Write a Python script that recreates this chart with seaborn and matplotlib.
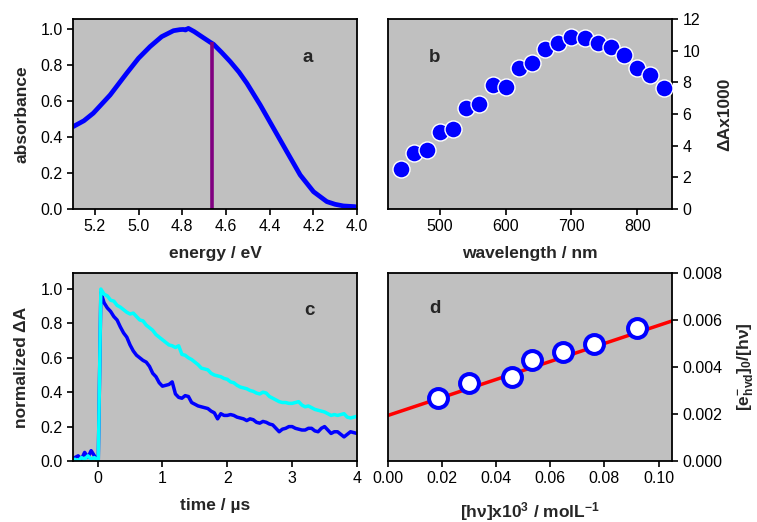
import numpy as np
import matplotlib
matplotlib.use("Agg")
import matplotlib.pyplot as plt
import seaborn as sns

# panel a: absorption spectrum
energy_ev = [5.30, 5.25, 5.207, 5.13, 5.054, 5.00, 4.947, 4.894, 4.84, 4.81, 4.795,
             4.785, 4.772, 4.745, 4.718, 4.672, 4.657, 4.62, 4.58, 4.54, 4.504, 4.443,
             4.382, 4.321, 4.26, 4.199, 4.138, 4.10, 4.062, 4.008]
absorbance = [0.457, 0.49, 0.532, 0.633, 0.754, 0.837, 0.902, 0.957, 0.99, 0.996, 0.997,
              0.994, 1.003, 0.985, 0.963, 0.926, 0.915, 0.87, 0.818, 0.76, 0.698, 0.578,
              0.448, 0.318, 0.189, 0.096, 0.041, 0.026, 0.017, 0.013]
excitation_ev = 4.662
excitation_abs = 0.926

# panel b: transient spectrum
wavelength_nm = [440, 460, 480, 500, 520, 540, 560, 580, 600, 620, 640,
                 660, 680, 700, 720, 740, 760, 780, 800, 820, 840]
delta_a = [2.54, 3.53, 3.70, 4.85, 5.08, 6.39, 6.65, 7.85, 7.72, 8.89, 9.21,
           10.1, 10.48, 10.88, 10.81, 10.5, 10.26, 9.74, 8.89, 8.47, 7.66]

# panel c: kinetic traces (pre-trigger baseline, then decay from t = 0.05 us in 0.05 steps)
pre_time = [-0.40, -0.35, -0.30, -0.25, -0.20, -0.15, -0.10, -0.05, 0.01]
pre_blue = [0.0, 0.02, 0.03, 0.01, 0.05, 0.02, 0.06, 0.03, 0.0]
pre_cyan = [0.0, 0.01, 0.0, 0.02, 0.01, 0.03, 0.01, 0.02, 0.0]
decay_blue = [0.98, 0.92, 0.89, 0.87, 0.84, 0.82, 0.78, 0.745, 0.72, 0.675,
              0.64, 0.615, 0.60, 0.585, 0.575, 0.55, 0.51, 0.49, 0.455, 0.435,
              0.44, 0.445, 0.46, 0.39, 0.37, 0.365, 0.38, 0.375, 0.34, 0.33,
              0.32, 0.315, 0.31, 0.305, 0.29, 0.28, 0.245, 0.275, 0.265, 0.265,
              0.27, 0.265, 0.255, 0.25, 0.245, 0.235, 0.245, 0.24, 0.225, 0.22,
              0.23, 0.225, 0.215, 0.21, 0.19, 0.17, 0.185, 0.19, 0.20, 0.20,
              0.19, 0.185, 0.18, 0.18, 0.19, 0.19, 0.175, 0.17, 0.19, 0.20,
              0.18, 0.16, 0.17, 0.17, 0.155, 0.14, 0.155, 0.17, 0.165, 0.16]
decay_cyan = [1.00, 0.97, 0.96, 0.935, 0.93, 0.905, 0.895, 0.88, 0.865, 0.855,
              0.86, 0.84, 0.82, 0.815, 0.79, 0.775, 0.76, 0.735, 0.72, 0.705,
              0.69, 0.675, 0.67, 0.66, 0.67, 0.62, 0.615, 0.60, 0.59, 0.575,
              0.56, 0.54, 0.535, 0.53, 0.51, 0.50, 0.495, 0.49, 0.48, 0.475,
              0.46, 0.455, 0.44, 0.43, 0.425, 0.42, 0.41, 0.405, 0.395, 0.39,
              0.40, 0.395, 0.375, 0.365, 0.355, 0.345, 0.34, 0.34, 0.335, 0.335,
              0.34, 0.345, 0.325, 0.315, 0.32, 0.31, 0.30, 0.295, 0.29, 0.285,
              0.275, 0.265, 0.27, 0.265, 0.27, 0.275, 0.255, 0.25, 0.255, 0.26]

# panel d: yield vs concentration
conc = [0.0186, 0.0301, 0.0458, 0.0532, 0.0646, 0.0761, 0.0922]
yield_ratio = [0.00270, 0.00330, 0.00358, 0.00429, 0.00465, 0.00500, 0.00568]
fit_intercept = 0.00194
fit_slope = 0.0383

sns.set_style("ticks")
plt.rcParams['font.family'] = ['Liberation Sans', 'DejaVu Sans']
plt.rcParams['mathtext.fontset'] = 'custom'
plt.rcParams['mathtext.rm'] = 'Liberation Sans'
plt.rcParams['mathtext.bf'] = 'Liberation Sans:bold'
plt.rcParams['mathtext.default'] = 'bf'
plt.rcParams['xtick.labelsize'] = 11.5
plt.rcParams['ytick.labelsize'] = 11.5
plt.rcParams['axes.linewidth'] = 1.3
plt.rcParams['xtick.major.width'] = 1.2
plt.rcParams['ytick.major.width'] = 1.2
plt.rcParams['xtick.major.size'] = 4
plt.rcParams['ytick.major.size'] = 4
plt.rcParams['xtick.color'] = 'black'
plt.rcParams['ytick.color'] = 'black'

bg = '#c0c0c0'
lab = dict(fontsize=12.5, fontweight='bold')
letter = dict(fontsize=13.5, fontweight='bold', ha='center', va='center')

fig = plt.figure(figsize=(7.57, 5.22), dpi=100)
ax_a = fig.add_axes([0.0964, 0.5996, 0.3752, 0.364])
ax_b = fig.add_axes([0.5126, 0.5996, 0.3752, 0.364])
ax_c = fig.add_axes([0.0964, 0.1169, 0.3752, 0.360])
ax_d = fig.add_axes([0.5126, 0.1169, 0.3752, 0.360])

for ax in (ax_a, ax_b, ax_c, ax_d):
    ax.set_facecolor(bg)
    for s in ax.spines.values():
        s.set_visible(True)
        s.set_color('black')

# a
sns.lineplot(x=energy_ev, y=absorbance, ax=ax_a, color='#0000ff', linewidth=3.4)
ax_a.vlines(excitation_ev, 0, excitation_abs, color='#800080', linewidth=2.6)
ax_a.set_xlim(5.3, 4.0)
ax_a.set_ylim(0, 1.055)
ax_a.set_xticks([5.2, 5.0, 4.8, 4.6, 4.4, 4.2, 4.0])
ax_a.set_xticklabels(['5.2', '5.0', '4.8', '4.6', '4.4', '4.2', '4.0'])
ax_a.set_yticks([0, 0.2, 0.4, 0.6, 0.8, 1.0])
ax_a.set_yticklabels(['0.0', '0.2', '0.4', '0.6', '0.8', '1.0'])
ax_a.set_xlabel('energy / eV', labelpad=8, **lab)
ax_a.set_ylabel('absorbance', labelpad=8, **lab)
ax_a.text(0.827, 0.80, 'a', transform=ax_a.transAxes, **letter)

# b
sns.scatterplot(x=wavelength_nm, y=delta_a, ax=ax_b, color='#0000ff', s=150,
                edgecolor='white', linewidth=1.0, zorder=3)
ax_b.set_xlim(421, 853)
ax_b.set_ylim(0, 12)
ax_b.set_xticks([500, 600, 700, 800])
ax_b.set_yticks([0, 2, 4, 6, 8, 10, 12])
ax_b.yaxis.tick_right()
ax_b.yaxis.set_label_position('right')
ax_b.set_ylabel('ΔAx1000', labelpad=12, **lab)
ax_b.set_xlabel('wavelength / nm', labelpad=8, **lab)
ax_b.text(0.165, 0.80, 'b', transform=ax_b.transAxes, **letter)

# c
t_decay = 0.05 + 0.05 * np.arange(len(decay_blue))
t_all = pre_time + list(t_decay)
sns.lineplot(x=t_all, y=pre_blue + decay_blue, ax=ax_c, color='#0000ff', linewidth=2.5)
sns.lineplot(x=t_all, y=pre_cyan + decay_cyan, ax=ax_c, color='#00ffff', linewidth=2.5)
ax_c.set_xlim(-0.38, 4.0)
ax_c.set_ylim(0, 1.093)
ax_c.set_xticks([0, 1, 2, 3, 4])
ax_c.set_yticks([0, 0.2, 0.4, 0.6, 0.8, 1.0])
ax_c.set_yticklabels(['0.0', '0.2', '0.4', '0.6', '0.8', '1.0'])
ax_c.set_xlabel('time / µs', labelpad=8, **lab)
ax_c.set_ylabel('normalized ΔA', labelpad=8, **lab)
ax_c.text(0.834, 0.80, 'c', transform=ax_c.transAxes, **letter)

# d
fit_x = np.array([0.0, 0.105])
sns.lineplot(x=fit_x, y=fit_intercept + fit_slope * fit_x, ax=ax_d, color='#ff0000',
             linewidth=2.5)
sns.scatterplot(x=conc, y=yield_ratio, ax=ax_d, color='white', s=185,
                edgecolor='#0000ff', linewidth=2.9, zorder=3)
ax_d.set_xlim(0, 0.105)
ax_d.set_ylim(0, 0.008)
ax_d.set_xticks([0.0, 0.02, 0.04, 0.06, 0.08, 0.10])
ax_d.set_xticklabels(['0.00', '0.02', '0.04', '0.06', '0.08', '0.10'])
ax_d.set_yticks([0, 0.002, 0.004, 0.006, 0.008])
ax_d.set_yticklabels(['0.000', '0.002', '0.004', '0.006', '0.008'])
ax_d.yaxis.tick_right()
ax_d.yaxis.set_label_position('right')
ax_d.set_ylabel('[e$_{hvd}^{-}$]$_0$/[hν]', labelpad=9, **lab)
ax_d.set_xlabel('[hν]x10$^3$ / molL$^{-1}$', labelpad=10, **lab)
ax_d.text(0.165, 0.81, 'd', transform=ax_d.transAxes, **letter)

fig.savefig('out.png', dpi=100, facecolor='white')
